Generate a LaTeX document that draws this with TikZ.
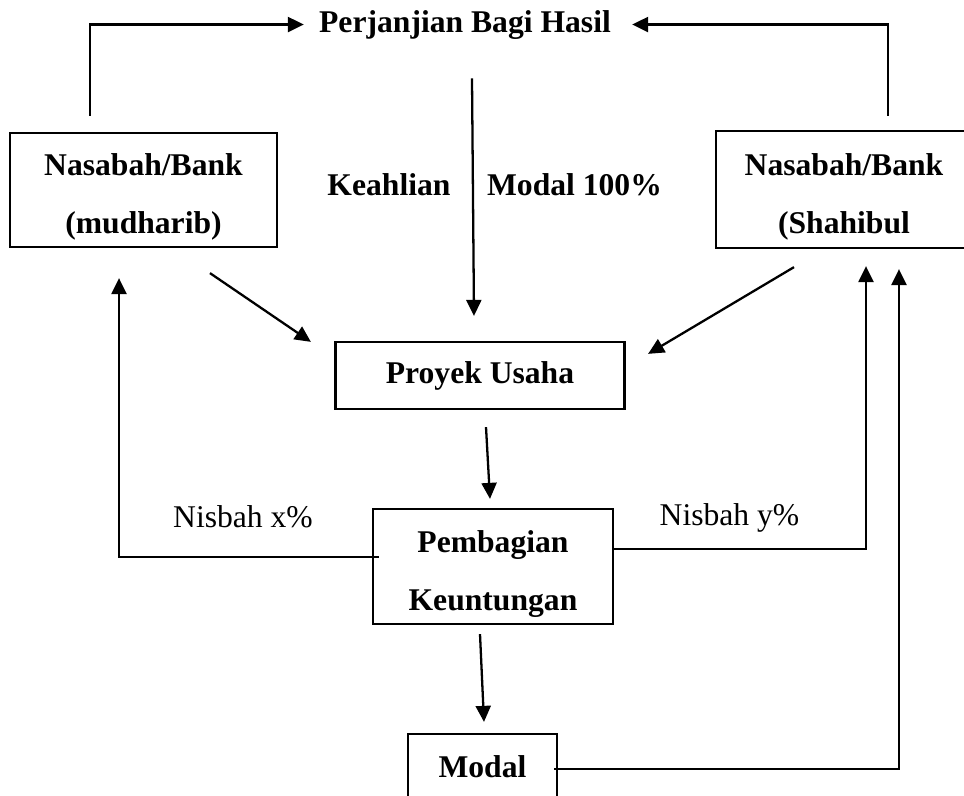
\documentclass[tikz,border=0pt]{standalone}
\usepackage{fontspec}
\setmainfont{Liberation Serif}
\usetikzlibrary{arrows.meta}

\begin{document}
\begin{tikzpicture}[x=0.02cm,y=-0.02cm,
        box/.style={draw,line width=1.3pt,align=center,inner sep=0pt,font=\fontsize{18}{33}\selectfont\bfseries},
        lbl/.style={inner sep=0pt,anchor=base,font=\fontsize{18}{22}\selectfont},
        blbl/.style={lbl,font=\fontsize{18}{22}\selectfont\bfseries},
        arr/.style={line width=1.3pt,-{Triangle[length=0.32cm,width=0.3cm]}}]
        \useasboundingbox (0,0) rectangle (964,795);
        \clip (0,0) rectangle (964,795);
        % Boxes
        \node[box,minimum width=5.34cm,minimum height=2.28cm] (mudharib) at (143.5,190) {\rule{0pt}{0.72cm}Nasabah/Bank\\(mudharib)};
        \node[box,minimum width=5.12cm,minimum height=2.34cm] (shahibul) at (844,189.5) {\rule{0pt}{0.72cm}Nasabah/Bank\\(Shahibul};
        \node[box,minimum width=5.78cm,minimum height=1.34cm] (proyek) at (480,375.5) {Proyek Usaha};
        \node[box,minimum width=4.8cm,minimum height=2.3cm] (pembagian) at (493,566.5) {\rule{0pt}{0.72cm}Pembagian\\Keuntungan};
        \node[box,minimum width=2.98cm,minimum height=1.32cm] (modal) at (482.5,767) {Modal};
        % Labels
        \node[blbl] (hasil) at (465,32) {Perjanjian Bagi Hasil};
        \node[blbl] (keahlian) at (389,195) {Keahlian};
        \node[blbl] (modalpct) at (574.5,195) {Modal 100\%};
        \node[lbl] (nisbahx) at (243,527) {Nisbah x\%};
        \node[lbl] (nisbahy) at (729.5,525) {Nisbah y\%};
        % Agreement
        \draw[arr,shorten >=0.3cm] ([xshift=-1.07cm,yshift=0.32cm]mudharib.north) |- (hasil.west);
        \draw[arr,shorten >=0.42cm] ([xshift=0.88cm,yshift=0.28cm]shahibul.north) |- (hasil.east);
        \draw[arr] ([xshift=0.14cm,yshift=-0.78cm]hasil.south) -- ([xshift=-0.12cm,yshift=0.5cm]proyek.north);
        % Into the project
        \draw[arr] ([xshift=1.33cm,yshift=-0.5cm]mudharib.south) -- ([xshift=-0.47cm,yshift=-0.02cm]proyek.north west);
        \draw[arr] ([xshift=-1cm,yshift=-0.36cm]shahibul.south) -- ([xshift=0.45cm,yshift=-0.26cm]proyek.north east);
        \draw[arr] ([xshift=0.12cm,yshift=-0.34cm]proyek.south) -- ([xshift=-0.06cm,yshift=0.18cm]pembagian.north);
        \draw[arr] ([xshift=-0.26cm,yshift=-0.18cm]pembagian.south) -- ([xshift=0.03cm,yshift=0.22cm]modal.north);
        % Back to both sides
        \draw[arr] ([xshift=0.14cm,yshift=0.19cm]pembagian.west) -| ([xshift=-0.49cm,yshift=-0.6cm]mudharib.south);
        \draw[arr] ([yshift=0.35cm]pembagian.east) -| ([xshift=0.44cm,yshift=-0.34cm]shahibul.south);
        \draw[arr] ([xshift=-0.08cm,yshift=-0.04cm]modal.east) -| ([xshift=1.1cm,yshift=-0.4cm]shahibul.south);
\end{tikzpicture}
\end{document}
